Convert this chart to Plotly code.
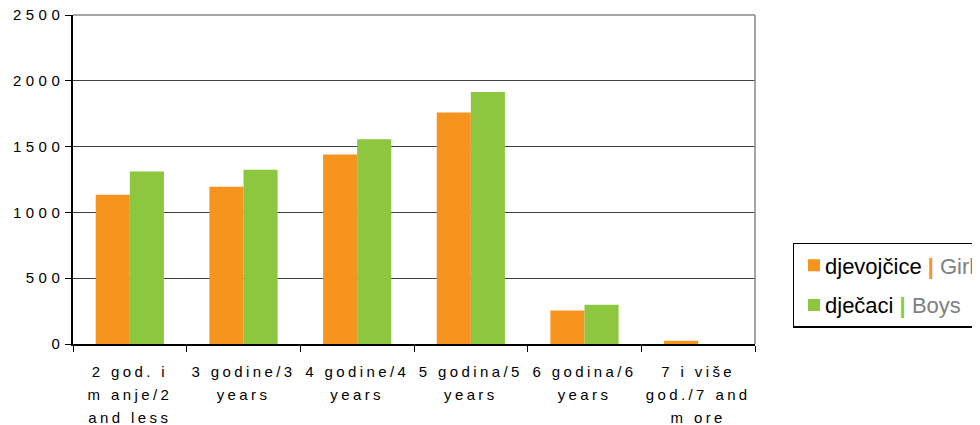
import plotly.graph_objects as go

categories = [
    "2 god. i<br>m anje/2<br>and less",
    "3 godine/3<br>years",
    "4 godine/4<br>years",
    "5 godina/5<br>years",
    "6 godina/6<br>years",
    "7 i više<br>god./7 and<br>m ore",
]
girls = [1135, 1195, 1440, 1760, 255, 25]
boys = [1310, 1325, 1555, 1915, 298, 0]

orange = "#F7941D"
green = "#8DC63F"

girlsName = "djevojčice <span style='color:%s'><b>|</b></span> <span style='color:#808080'>Girls</span>" % orange
boysName = "dječaci <span style='color:%s'><b>|</b></span> <span style='color:#808080'>Boys</span>" % green

traces = [
    go.Bar(x = categories, y = girls, name = girlsName, legendgroup = "g",
           marker = dict(color = orange, line = dict(width = 0))),
    go.Bar(x = categories, y = boys, name = boysName, legendgroup = "b",
           marker = dict(color = green, line = dict(width = 0))),
]

layout = go.Layout(
    width = 980, height = 425,
    margin = dict(l = 65, r = 233, t = 7, b = 89, autoexpand = False),
    paper_bgcolor = "white", plot_bgcolor = "white",
    barmode = "group", bargap = 0.4, bargroupgap = 0,
    font = dict(family = "Liberation Sans, Arial", color = "black"),
    xaxis = dict(
        type = "category", tickson = "boundaries", ticks = "outside", ticklen = 6,
        tickcolor = "black", showline = True, linecolor = "black", linewidth = 1.5,
        tickfont = dict(size = 15), tickangle = 0, ticklabelstandoff = 13, automargin = False,
    ),
    yaxis = dict(
        range = [0, 2500], dtick = 500, ticks = "outside", ticklen = 6, tickcolor = "black",
        showline = True, linecolor = "black", linewidth = 1.5, automargin = False,
        ticklabeloverflow = "allow",
        gridcolor = "#404040", gridwidth = 1, tickfont = dict(size = 15), zeroline = False,
    ),
    legend = dict(
        x = 1.055, y = 0.307, xanchor = "left", yanchor = "top",
        bordercolor = "black", borderwidth = 1.5, font = dict(size = 22),
        tracegroupgap = 8, itemwidth = 30,
    ),
    showlegend = True,
    shapes = [
        dict(type = "line", xref = "paper", yref = "paper", x0 = 1, x1 = 1, y0 = 0, y1 = 1,
             line = dict(color = "#888888", width = 1.5)),
        dict(type = "line", xref = "paper", yref = "paper", x0 = 0, x1 = 1, y0 = 1, y1 = 1,
             line = dict(color = "#888888", width = 1.5)),
    ],
)

# spaced-out tick lettering like the original, legend text closer to its swatch
spacing = """
var gd = document.getElementById('{plot_id}');
function spaceTicks() {
    gd.querySelectorAll('.xtick text').forEach(function(t) {
        t.style.letterSpacing = '3.4px';
        t.querySelectorAll('tspan.line').forEach(function(s, i) {
            s.setAttribute('dy', (i * 23) + 'px');
        });
    });
    gd.querySelectorAll('.ytick text').forEach(function(t) {
        t.style.letterSpacing = '4.5px';
        t.setAttribute('dx', '2');
    });
    gd.querySelectorAll('.legendtext').forEach(function(t) {
        t.setAttribute('dx', '-9');
    });
}
spaceTicks();
setTimeout(spaceTicks, 50);
"""

fig = go.Figure(data = traces, layout = layout)
fig.write_html("out.html", post_script = spacing)
